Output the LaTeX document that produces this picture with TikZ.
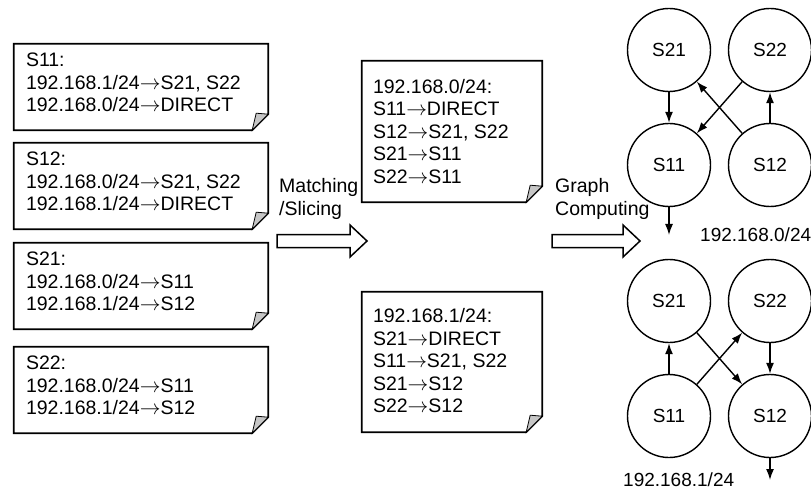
\documentclass[tikz,border=0pt]{standalone}
\usepackage{fontspec}
\setmainfont{Liberation Sans}
\usetikzlibrary{arrows.meta}

\newcommand{\toarrow}{\(\rightarrow\)}
% frame of a note with folded lower right corner
\newcommand{\foldframe}[1]{%
  \draw[frame] (#1.north west) -- (#1.north east) -- ([yshift=16pt]#1.south east)
    -- ([xshift=-16pt]#1.south east) -- (#1.south west) -- cycle;
  \filldraw[flap] ([xshift=-16pt]#1.south east) -- ([xshift=-12pt,yshift=17pt]#1.south east)
    -- ([yshift=16pt]#1.south east) -- cycle;}

\begin{document}
\begin{tikzpicture}[x=1pt, y=-1pt,
    notebox/.style={rectangle, draw=none, inner sep=0pt},
    notetext/.style={align=left, inner sep=0pt, anchor=west, font=\fontsize{19.5}{22.5}\selectfont},
    frame/.style={line width=1.8pt, line join=miter},
    flap/.style={line width=0.8pt, fill=gray!45},
    sw/.style={circle, draw, line width=1.4pt, minimum size=83pt, inner sep=0pt, font=\fontsize{19}{22}\selectfont},
    edge/.style={-{Latex[length=11pt, width=8pt]}, line width=1.4pt},
    lbl/.style={inner sep=0pt, align=left, font=\fontsize{19.5}{22.5}\selectfont},
    bigarrow/.style={draw, line width=1.5pt, fill=white, line join=miter}
]
    \useasboundingbox (0,0) rectangle (811,497);

    % per-switch tables
    \node[notebox, minimum width=254pt, minimum height=86pt] (s11) at (141,87) {};
    \node[notebox, minimum width=254pt, minimum height=86pt] (s12) at (141,186) {};
    \node[notebox, minimum width=254pt, minimum height=86pt] (s21) at (141,286) {};
    \node[notebox, minimum width=254pt, minimum height=86pt] (s22) at (141,390) {};
    \foreach \n in {s11,s12,s21,s22} {\foldframe{\n}}

    \node[notetext] (s11txt) at ([xshift=12pt,yshift=4.5pt]s11.west) {S11:\\192.168.1/24\toarrow S21, S22\\192.168.0/24\toarrow DIRECT};
    \node[notetext] (s12txt) at ([xshift=12pt,yshift=4.5pt]s12.west) {S12:\\192.168.0/24\toarrow S21, S22\\192.168.1/24\toarrow DIRECT};
    \node[notetext] (s21txt) at ([xshift=12pt,yshift=4.5pt]s21.west) {S21:\\192.168.0/24\toarrow S11\\192.168.1/24\toarrow S12};
    \node[notetext] (s22txt) at ([xshift=12pt,yshift=4.5pt]s22.west) {S22:\\192.168.0/24\toarrow S11\\192.168.1/24\toarrow S12};

    % per-prefix slices
    \node[notebox, minimum width=180pt, minimum height=141pt] (p0) at (452,131.5) {};
    \node[notebox, minimum width=180pt, minimum height=140pt] (p1) at (452,362) {};
    \foreach \n in {p0,p1} {\foldframe{\n}}

    \node[notetext] (p0txt) at ([xshift=11pt,yshift=0pt]p0.west) {192.168.0/24:\\S11\toarrow DIRECT\\S12\toarrow S21, S22\\S21\toarrow S11\\S22\toarrow S11};
    \node[notetext] (p1txt) at ([xshift=11pt,yshift=1pt]p1.west) {192.168.1/24:\\S21\toarrow DIRECT\\S11\toarrow S21, S22\\S21\toarrow S12\\S22\toarrow S12};

    % steps
    \draw[bigarrow] (277,234.5) -- (350,234.5) -- (350,225) -- (367,241) -- (350,257) -- (350,247.5) -- (277,247.5) -- cycle;
    \node[lbl, anchor=west] (matchlbl) at (279,199) {Matching\\/Slicing};
    \draw[bigarrow] (552,234.5) -- (623,234.5) -- (623,225) -- (640,241) -- (623,257) -- (623,247.5) -- (552,247.5) -- cycle;
    \node[lbl, anchor=west] (graphlbl) at (555,199) {Graph\\Computing};

    % graph for 192.168.0/24
    \node[sw] (a21) at (669,50) {S21};
    \node[sw] (a22) at (770,50) {S22};
    \node[sw] (a11) at (669,165) {S11};
    \node[sw] (a12) at (770,165) {S12};
    \coordinate (aout) at (669,235);
    \draw[edge] (a21) -- (a11);
    \draw[edge] (a22) -- (a11);
    \draw[edge] (a12) -- (a21);
    \draw[edge] (a12) -- (a22);
    \draw[edge] (a11) -- (aout);
    \node[lbl, anchor=west, font=\fontsize{19}{22}\selectfont] (pfx0) at (700,235) {192.168.0/24};

    % graph for 192.168.1/24
    \node[sw] (b21) at (669,301) {S21};
    \node[sw] (b22) at (770,301) {S22};
    \node[sw] (b11) at (669,416) {S11};
    \node[sw] (b12) at (770,416) {S12};
    \coordinate (bout) at (770,480);
    \draw[edge] (b11) -- (b21);
    \draw[edge] (b11) -- (b22);
    \draw[edge] (b21) -- (b12);
    \draw[edge] (b22) -- (b12);
    \draw[edge] (b12) -- (bout);
    \node[lbl, anchor=west, font=\fontsize{19}{22}\selectfont] (pfx1) at (623,480) {192.168.1/24};
\end{tikzpicture}
\end{document}
